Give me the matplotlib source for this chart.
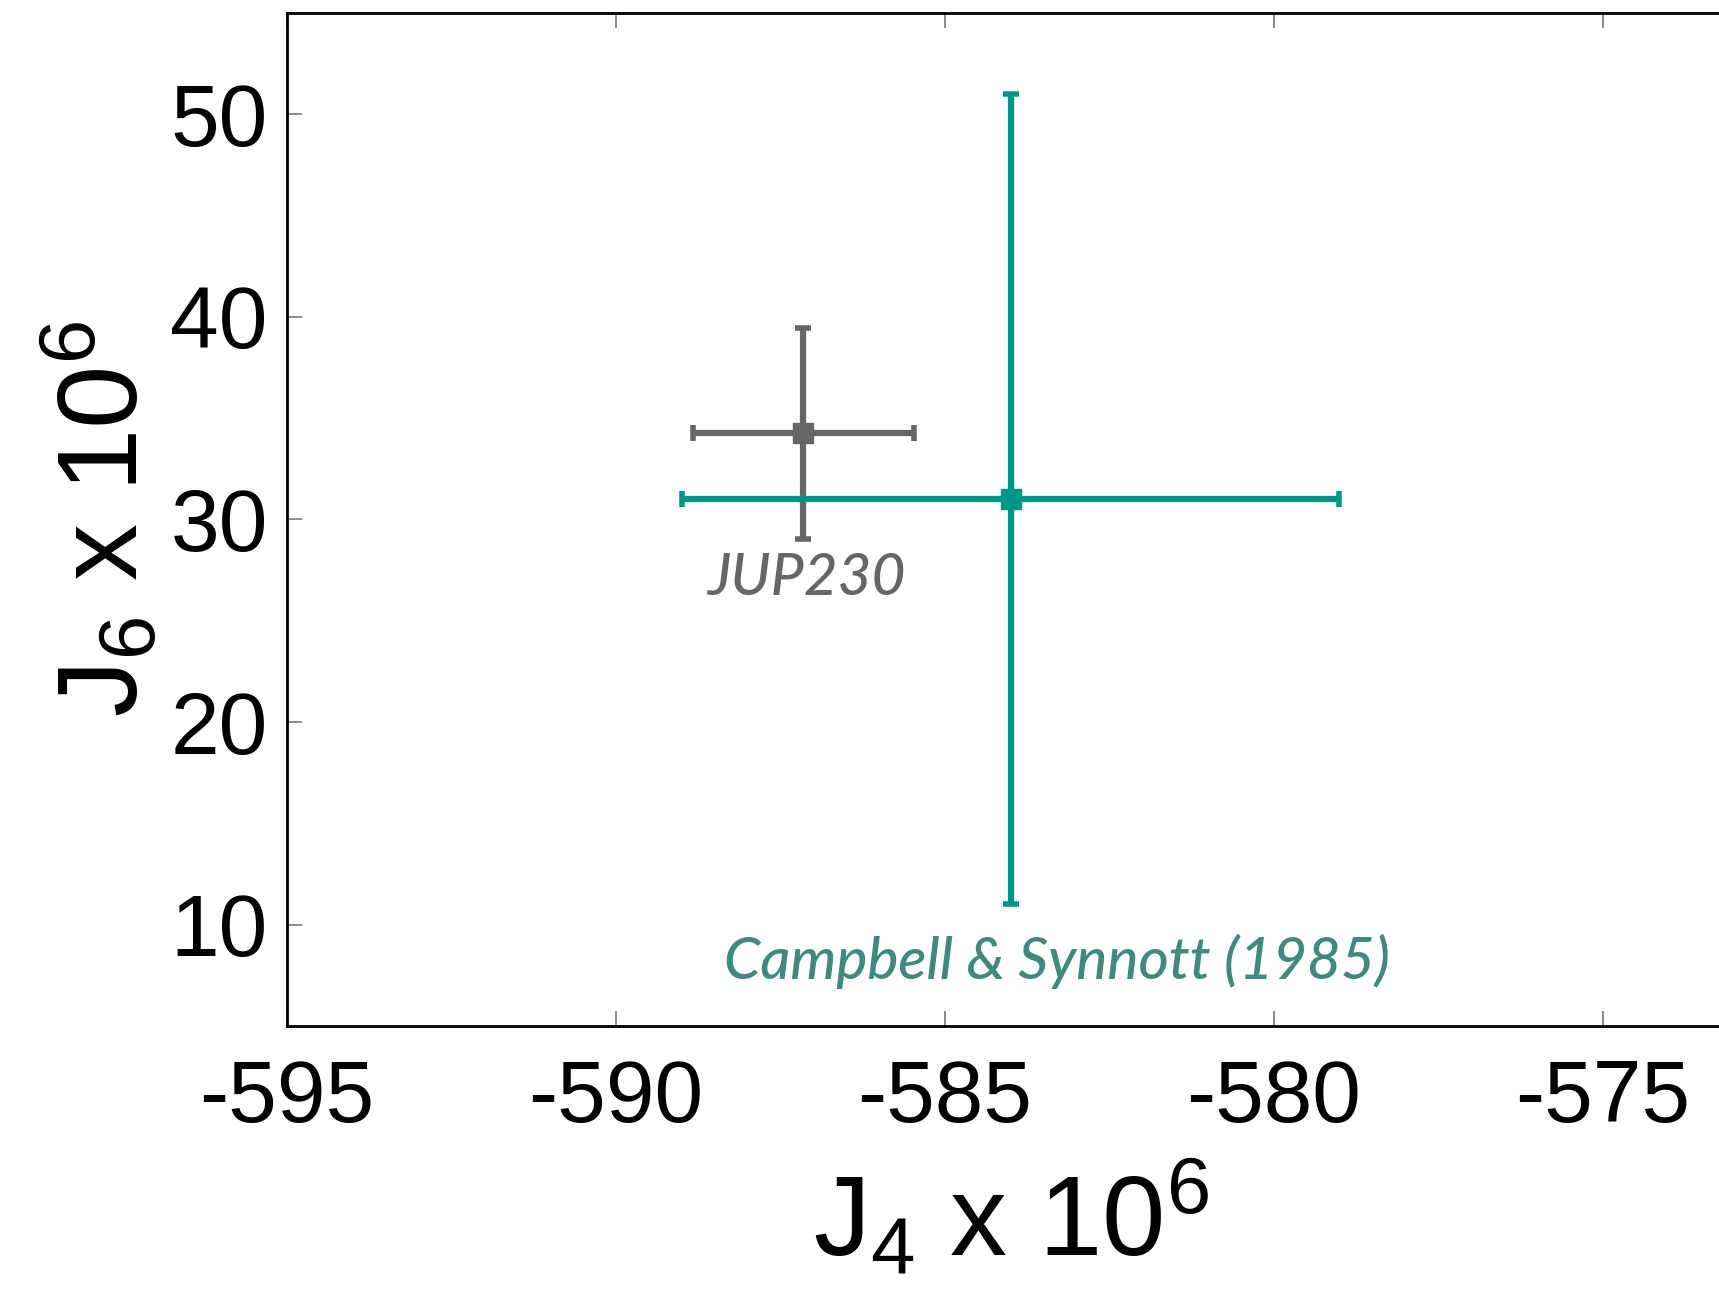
import matplotlib
matplotlib.use("Agg")
import matplotlib.pyplot as plt

plt.rcParams['font.family'] = ['Liberation Sans', 'DejaVu Sans']
plt.rcParams['mathtext.fontset'] = 'custom'
plt.rcParams['mathtext.rm'] = 'Liberation Sans'
plt.rcParams['mathtext.it'] = 'Liberation Sans'
plt.rcParams['axes.unicode_minus'] = False

# J4 x 1e6, J6 x 1e6 with 1-sigma errors
names = ["JUP230", "Campbell & Synnott (1985)"]
j4 = [-587.15, -584.0]
j4_err = [1.68, 5.0]
j6 = [34.25, 31.0]
j6_err = [5.2, 20.0]
colors = ["#666666", "#009685"]
text_colors = ["#666666", "#3f8a7c"]
label_pos = [(-587.1, 27.1), (-583.3, 8.2)]

xticks = [-595, -590, -585, -580, -575]
yticks = [10, 20, 30, 40, 50]

fig = plt.figure(figsize=(17.19, 12.95), dpi=100)
ax = fig.add_axes([0.167, 0.2077, 0.8418, 0.7823])

for i in range(len(names)):
    ax.errorbar(j4[i], j6[i], xerr=j4_err[i], yerr=j6_err[i], fmt="s",
                color=colors[i], ms=14, lw=4.5, capsize=6, capthick=4)
    ax.text(label_pos[i][0], label_pos[i][1], names[i], color=text_colors[i],
            fontsize=42, style="italic", weight="medium",
            family=["Lato", "DejaVu Sans"], ha="center", va="center")

ax.set_xlim(-595, -573)
ax.set_ylim(5, 55)
ax.set_xticks(xticks)
ax.set_yticks(yticks)
ax.tick_params(direction="in", top=True, right=True, length=11, width=1.2,
               color="#777777", labelsize=63)
ax.tick_params(axis="x", pad=24)
ax.tick_params(axis="y", pad=14)
for s in ax.spines.values():
    s.set_linewidth(2)

ax.set_xlabel("J$_4$ x 10$^6$", fontsize=82, labelpad=14)
ax.set_ylabel("J$_6$ x 10$^6$", fontsize=82, labelpad=6)

fig.savefig("out.png", dpi=100)
